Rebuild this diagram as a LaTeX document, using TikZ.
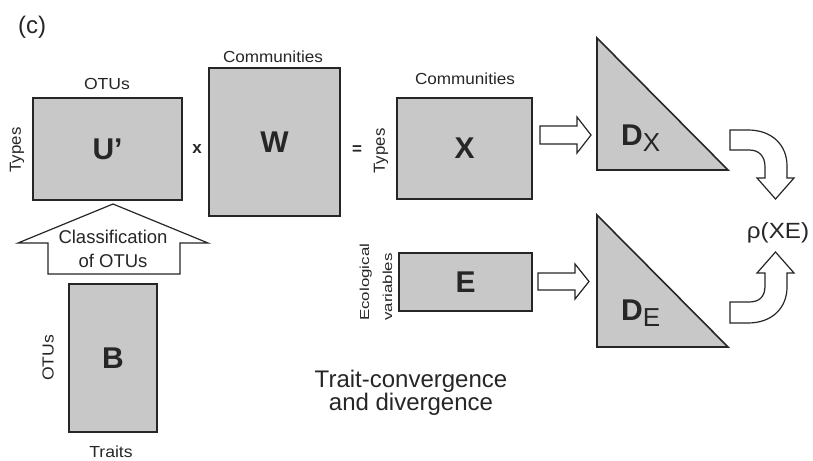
\documentclass[tikz,border=0pt]{standalone}
\usepackage{fontspec}
\setmainfont{Liberation Sans}
\usepackage{graphicx}
\definecolor{matfill}{RGB}{200,200,200}
\definecolor{ink}{RGB}{38,38,38}
\newcommand{\fsz}[2]{\fontsize{#1}{#2}\selectfont}
\newcommand{\wider}[2]{\scalebox{#1}[1]{#2}}
\tikzset{
  mat/.style={draw=ink, line width=1.6pt, fill=matfill, inner sep=0pt,
    text=ink, font=\fsz{30}{30}\bfseries},
  lbl/.style={text=ink, inner sep=0pt, font=\fsz{16}{18}},
  blockarrow/.style={draw=ink, line width=1.2pt, fill=white, line join=miter},
  tri/.style={draw=ink, line width=1.6pt, fill=matfill, line join=miter},
}
\begin{document}
\begin{tikzpicture}[x=1pt, y=-1pt]
\useasboundingbox (0,0) rectangle (813,460);

% panel tag
\node[lbl, font=\fsz{24}{26}] (tag) at (32,27) {(c)};

% matrices
\node[mat, minimum width=149pt, minimum height=102pt] (U) at (107.5,149) {U’};
\node[mat, minimum width=131pt, minimum height=148pt] (W) at (274.5,142) {W};
\node[mat, minimum width=135pt, minimum height=101pt] (X) at (464.5,148.5) {X};
\node[mat, minimum width=133pt, minimum height=58pt] (E) at (465.5,282) {E};
\node[mat, minimum width=88pt, minimum height=148pt] (B) at (113,358) {B};

% axis labels
\node[lbl] (uotus) at (107,84) {\wider{1.1}{OTUs}};
\node[lbl, rotate=90] (utypes) at (17,150) {\wider{1.05}{Types}};
\node[lbl] (wcomm) at (273,57) {\wider{1.07}{Communities}};
\node[lbl] (xcomm) at (465,79) {\wider{1.07}{Communities}};
\node[lbl, rotate=90] (xtypes) at (381,151) {\wider{1.05}{Types}};
\node[lbl, rotate=90, anchor=west, align=left, font=\fsz{13}{23}] (ecol) at (376,321)
  {\wider{1.3}{Ecological}\\\wider{1.3}{variables}};
\node[lbl, rotate=90] (botus) at (48,358) {\wider{1.1}{OTUs}};
\node[lbl] (traits) at (111,452) {\wider{1.1}{Traits}};

% operators
\node[lbl, font=\fsz{17}{18}\bfseries] (times) at (197,149) {x};
\node[lbl, font=\fsz{17}{18}\bfseries] (equals) at (357,150) {=};

% classification arrow from B up to U'
\draw[blockarrow] (48,274) -- (48,243) -- (18,243) -- (113,204) -- (208,243)
  -- (180,243) -- (180,274) -- cycle;
\node[lbl, align=center, font=\fsz{18.5}{24}] (classif) at (113,249)
  {Classification\\of OTUs};

% distance triangles
\draw[tri] (597,38) coordinate (dxa) -- (597,170) -- (728,170) -- cycle;
\draw[tri] (597,215) coordinate (dea) -- (597,347) -- (728,347) -- cycle;
\node[text=ink, inner sep=0pt, anchor=base west] (DX) at (621,145)
  {\fsz{30}{30}\bfseries D\fsz{26}{26}\mdseries\raisebox{-6pt}{X}};
\node[text=ink, inner sep=0pt, anchor=base west] (DE) at (621,320)
  {\fsz{30}{30}\bfseries D\fsz{26}{26}\mdseries\raisebox{-6pt}{E}};

% X -> D_X and E -> D_E
\draw[blockarrow] (540,126) -- (577,126) -- (577,117) -- (591,135) -- (577,153)
  -- (577,144) -- (540,144) -- cycle;
\draw[blockarrow] (538,273) -- (575,273) -- (575,264) -- (589,281.5) -- (575,299)
  -- (575,290) -- (538,290) -- cycle;

% bent arrows into the correlation
\draw[blockarrow] (730,130) -- (748,130) .. controls (772,130) and (787,145) .. (787,166)
  -- (787,178) -- (794,178) -- (775.5,199) -- (757,178) -- (765,178) -- (765,167)
  .. controls (765,156) and (759,150) .. (749,150) -- (730,150) -- cycle;
\draw[blockarrow] (730,323) -- (748,323) .. controls (772,323) and (787,308) .. (787,287)
  -- (787,273) -- (794,273) -- (775.5,252) -- (757,273) -- (765,273) -- (765,286)
  .. controls (765,297) and (759,302) .. (749,302) -- (730,302) -- cycle;
\node[lbl, font=\fsz{22}{24}] (rho) at (778,233) {\wider{1.1}{ρ(XE)}};

% caption
\node[lbl, align=center, font=\fsz{24}{20}] (caption) at (411,393)
  {Trait-convergence\\and divergence};
\end{tikzpicture}
\end{document}
